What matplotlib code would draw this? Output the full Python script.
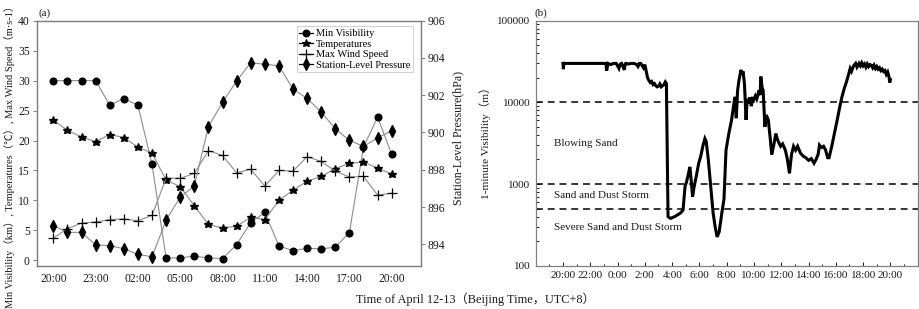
import matplotlib
matplotlib.use("Agg")
import matplotlib.pyplot as plt
import numpy as np
from matplotlib.ticker import FixedLocator, NullFormatter, LogLocator
from matplotlib.lines import Line2D

plt.rcParams['font.family'] = ['Liberation Serif', 'Noto Sans CJK SC', 'DejaVu Sans']

# ---------------- data: panel (a) hourly, 20:00 Apr 12 -> 20:00 Apr 13
hours = list(range(25))
xtick_pos_a = [0, 3, 6, 9, 12, 15, 18, 21, 24]
xtick_lab_a = ['20:00', '23:00', '02:00', '05:00', '08:00', '11:00', '14:00', '17:00', '20:00']
min_vis = [30, 30, 30, 30, 25.9, 27, 25.9, 16, 0.4, 0.4, 0.7, 0.4, 0.3, 2.6, 6.3, 8.0,
           2.4, 1.6, 2.0, 1.9, 2.2, 4.6, 18.9, 23.9, 17.7]
temps = [23.4, 21.7, 20.6, 19.8, 21.0, 20.5, 18.9, 17.9, 13.4, 12.3, 9.1, 6.0, 5.4, 5.7,
         7.2, 6.8, 10.0, 11.7, 13.2, 14.0, 15.3, 16.2, 16.4, 15.4, 14.4]
max_wind = [3.7, 5.3, 6.2, 6.4, 6.8, 6.9, 6.6, 7.5, 13.7, 13.7, 14.5, 18.3, 17.5, 14.6,
            15.2, 12.4, 15.0, 14.9, 17.3, 16.5, 14.9, 13.9, 14.0, 10.9, 11.2]
pressure = [895.0, 894.64, 894.64, 893.96, 893.93, 893.76, 893.46, 893.33, 895.3, 896.52,
            897.14, 900.31, 901.62, 902.76, 903.75, 903.66, 903.58, 902.33, 901.83, 901.10,
            900.2, 899.57, 899.26, 899.7, 900.1]

# ---------------- data: panel (b) 1-minute visibility: (hours since 20:00 Apr 12, metres)
vis_series = [
    (0.0, 30000), (0.03, 25500), (0.06, 30000), (0.5, 30000), (1.0, 30000), (1.5, 30000),
    (2.0, 30000), (2.5, 30000), (3.0, 30000), (3.15, 30000), (3.2, 24500), (3.3, 30000),
    (3.5, 29000), (3.7, 30000), (3.9, 30000), (4.1, 26000), (4.2, 29500), (4.3, 30000),
    (4.5, 25000), (4.55, 29000), (4.6, 30000), (4.8, 29500), (5.0, 30000), (5.2, 30000),
    (5.4, 29000), (5.5, 27500), (5.6, 30000), (5.7, 30000), (5.9, 26500), (6.0, 29000),
    (6.1, 24000), (6.2, 20000), (6.3, 18500), (6.4, 17500), (6.5, 18000), (6.6, 16500),
    (6.7, 17000), (6.8, 16000), (6.9, 15500), (7.0, 15800), (7.1, 16800), (7.2, 15500),
    (7.3, 16000), (7.4, 16500), (7.5, 17800), (7.58, 17000), (7.64, 2500), (7.7, 400),
    (7.8, 385), (7.9, 380), (8.2, 400), (8.6, 440), (8.8, 480), (8.95, 950), (9.05, 1050),
    (9.2, 1350), (9.3, 1620), (9.4, 1100), (9.5, 700), (9.6, 900), (9.75, 1200),
    (9.95, 1800), (10.1, 2200), (10.25, 2900), (10.4, 3600), (10.5, 3300), (10.65, 2000),
    (10.8, 1050), (11.0, 450), (11.15, 300), (11.3, 225), (11.45, 260), (11.65, 450),
    (11.8, 650), (11.95, 2600), (12.15, 4100), (12.35, 6000), (12.5, 9000), (12.6, 11700),
    (12.7, 6400), (12.8, 14000), (12.9, 18700), (13.05, 25000), (13.12, 22000),
    (13.2, 24000), (13.3, 17000), (13.42, 6100), (13.5, 11000), (13.6, 9800), (13.7, 11500),
    (13.8, 9000), (13.9, 11000), (13.97, 10700), (14.1, 12000), (14.2, 11000), (14.3, 12500),
    (14.35, 14000), (14.45, 12300), (14.5, 20700), (14.6, 15000), (14.67, 14100),
    (14.8, 5000), (14.9, 7000), (15.05, 6100), (15.2, 3500), (15.3, 2300), (15.45, 3000),
    (15.6, 4150), (15.75, 3400), (15.95, 2900), (16.1, 3100), (16.3, 2600), (16.45, 2000),
    (16.6, 1350), (16.75, 2300), (16.9, 2900), (17.05, 2600), (17.2, 2900), (17.4, 2400),
    (17.6, 2200), (17.8, 2100), (18.0, 1950), (18.2, 2050), (18.4, 1800), (18.55, 2000),
    (18.7, 2300), (18.8, 3000), (18.95, 2800), (19.1, 2900), (19.25, 2600), (19.4, 2100),
    (19.5, 2100), (19.7, 2900), (19.9, 4200), (20.1, 6100), (20.3, 9000), (20.45, 11700),
    (20.6, 14500), (20.75, 17200), (20.9, 21000), (21.05, 26000), (21.15, 24000),
    (21.3, 28000), (21.45, 30000), (21.55, 27000), (21.7, 30000), (21.8, 28000),
    (21.9, 30500), (22.0, 28000), (22.1, 29500), (22.2, 27000), (22.3, 29500),
    (22.4, 27400), (22.5, 29000), (22.6, 28500), (22.7, 26500), (22.8, 28500),
    (22.9, 26000), (23.0, 27500), (23.1, 25500), (23.2, 26500), (23.3, 24500),
    (23.4, 25500), (23.5, 23800), (23.6, 24500), (23.7, 22000), (23.8, 23500),
    (23.9, 20500), (23.95, 17500), (24.0, 19000),
]
xtick_pos_b = list(range(0, 25, 2))
xtick_lab_b = ['20:00', '22:00', '0:00', '2:00', '4:00', '6:00', '8:00', '10:00', '12:00',
               '14:00', '16:00', '18:00', '20:00']
thresholds = [10000, 1000, 500]
zone_labels = ['Blowing Sand', 'Sand and Dust Storm', 'Severe Sand and Dust Storm']
zone_label_y = [3160, 716, 292]

vis_t = [p[0] for p in vis_series]
vis_m = [p[1] for p in vis_series]

W, H = 920, 309
fig = plt.figure(figsize=(W / 100, H / 100), dpi=100)

GRAY = '#808080'
LINE = '#8c8c8c'
TXT = '#1a1a1a'
FS = 7.5

# ---------------- panel (a)
ax = fig.add_axes([36.7 / W, 1 - 265.7 / H, (421 - 36.7) / W, (265.7 - 20.7) / H])
ax2 = ax.twinx()
mk = dict(color=LINE, lw=0.8, markerfacecolor='black', markeredgecolor='black')
l1, = ax.plot(hours, min_vis, marker='o', ms=4.8, label='Min Visibility', **mk)
l2, = ax.plot(hours, temps, marker='*', ms=6.2, label='Temperatures', **mk)
l3, = ax.plot(hours, max_wind, marker='+', ms=6.5, mew=0.9, label='Max Wind Speed', **mk)
l4, = ax2.plot(hours, pressure, marker='d', ms=5.8, label='Station-Level Pressure', **mk)
ax.set_xlim(-1.18, 26.08)
ax.set_ylim(-0.9, 40)
ax.set_yticks(range(0, 41, 5))
ax2.set_ylim(892.85, 906)
ax2.set_yticks(range(894, 907, 2))
ax.set_xticks(xtick_pos_a)
ax.set_xticklabels(xtick_lab_a)
for a in (ax, ax2):
    for s in a.spines.values():
        s.set_color(GRAY)
        s.set_linewidth(0.9)
    a.tick_params(labelsize=8.4, colors=TXT, length=3, width=0.7, direction='out', pad=2)
    a.tick_params(axis='both', color=GRAY)
ax.tick_params(axis='x', length=0, pad=5)

lh = [Line2D([], [], color='black', lw=0.9, marker=m, ms=s, markerfacecolor='black',
             markeredgecolor='black', mew=0.9)
      for m, s in (('o', 4.8), ('*', 6.2), ('+', 6.5), ('d', 5.8))]
leg = ax2.legend(lh, [l1.get_label(), l2.get_label(), l3.get_label(), l4.get_label()],
                 loc='upper right', bbox_to_anchor=(0.979, 0.977), fontsize=FS,
                 frameon=True, fancybox=False, edgecolor='#d0d0d0', framealpha=1,
                 handlelength=1.3, handletextpad=0.3, labelspacing=0.12, borderpad=0.25,
                 borderaxespad=0)
leg.get_frame().set_linewidth(0.7)

fig.text(45 / W, 1 - 12.7 / H, '(a)', fontsize=8, ha='center', va='center', color=TXT)
fig.text(10 / W, 0.5, 'Min Visibility（km）, Temperatures（℃）, Max Wind Speed（m·s-1）',
         rotation=90, fontsize=FS, ha='center', va='center', color=TXT)
fig.text(458 / W, 1 - 137.5 / H, 'Station-Level Pressure(hPa)', rotation=90, fontsize=8.6,
         ha='center', va='center', color=TXT)

# ---------------- panel (b)
bx = fig.add_axes([535.7 / W, 1 - 265.7 / H, (917.7 - 535.7) / W, (265.7 - 20.7) / H])
bx.plot(vis_t, vis_m, color='black', lw=2.2, solid_joinstyle='miter')
for thr in thresholds:
    bx.axhline(thr, color='black', lw=1.1, ls=(0, (4.5, 3.2)))
bx.set_yscale('log')
bx.set_ylim(100, 100000)
bx.set_xlim(-2, 26)
bx.set_yticks([100, 1000, 10000, 100000])
bx.set_yticklabels(['100', '1000', '10000', '100000'])
bx.yaxis.set_minor_locator(LogLocator(base=10, subs=np.arange(2, 10)))
bx.yaxis.set_minor_formatter(NullFormatter())
bx.set_xticks(xtick_pos_b)
bx.set_xticklabels(xtick_lab_b)
bx.xaxis.set_minor_locator(FixedLocator(list(range(-1, 26))))
for s in bx.spines.values():
    s.set_color(GRAY)
    s.set_linewidth(0.9)
bx.tick_params(which='major', labelsize=8, colors=TXT, direction='in', length=3,
               width=0.7, pad=4)
bx.tick_params(which='minor', direction='in', length=1.8, width=0.7, color=TXT)
for lab, yv in zip(zone_labels, zone_label_y):
    bx.text(-0.68, yv, lab, fontsize=8, ha='left', va='center', color=TXT)

fig.text(541 / W, 1 - 12.7 / H, '(b)', fontsize=8, ha='center', va='center', color=TXT)
fig.text(485 / W, 1 - 140 / H, '1-minute Visibility（m）', rotation=90, fontsize=8.2,
         ha='center', va='center', color=TXT)

fig.text(475.5 / W, 1 - 299 / H, 'Time of April 12-13（Beijing Time，UTC+8）', fontsize=8.8,
         ha='center', va='center', color=TXT)

fig.savefig('out.png', dpi=100)
